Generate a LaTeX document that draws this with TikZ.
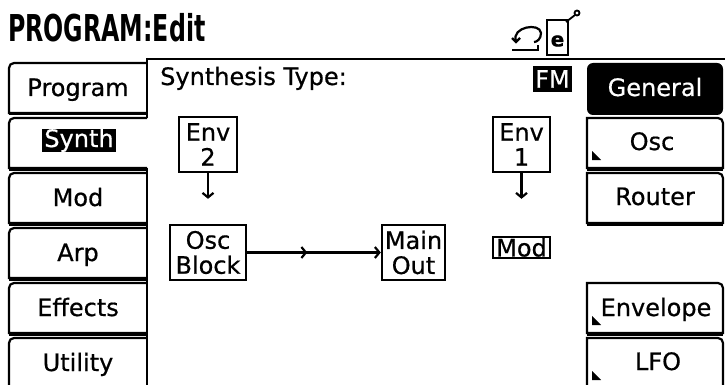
\documentclass[tikz,border=0pt]{standalone}
\usepackage{fontspec}
\setmainfont[FakeBold=0.6]{DejaVu Sans}
\newfontfamily\titlefont[FakeStretch=0.64]{DejaVu Sans}
\usetikzlibrary{arrows.meta,decorations.markings}
\begin{document}
\begin{tikzpicture}[x=1pt,y=-1pt,
  lcd/.style={font=\fontsize{24}{25}\selectfont, inner sep=0pt},
  tabedge/.style={line width=2.2pt},
  tabfoot/.style={line width=3.5pt},
  blk/.style={draw, line width=2.4pt, inner sep=0pt, font=\fontsize{24}{25}\selectfont, align=center},
  arr/.style={line width=2.2pt, -{Straight Barb[length=4.5pt,width=11pt]}},
  midarr/.style={postaction=decorate, decoration={markings,
      mark=at position 0.45 with {\arrow{Straight Barb[length=4.5pt,width=11pt]}}}}
]
\useasboundingbox (0,0) rectangle (725,385);
\clip (0,0) rectangle (725,385);
\fill[white] (0,0) rectangle (725,385);

% title
\node[anchor=base west, inner sep=0pt, font=\titlefont\bfseries\fontsize{37}{37}\selectfont] (title) at (8,42) {PROGRAM:Edit};

% icon
\draw[line width=2.2pt] (516,41) .. controls (511,27) and (540,22) .. (541,33) .. controls (541,39) and (537,42) .. (534,42);
\draw[line width=2.2pt] (512,38) -- (516,42) -- (520,38);
\draw[line width=2.2pt] (512,50) -- (538,50) -- (538,45);
\draw[line width=2.2pt] (547,20) rectangle (568,55);
\node[inner sep=0pt, font=\bfseries\fontsize{20}{20}\selectfont] (iconE) at (557.5,41) {e};
\draw[line width=1.8pt] (566,22) -- (575,15);
\draw[line width=1.8pt] (577,13) circle[radius=2.5];

% panel frame
\draw[line width=2.5pt] (147,59) -- (725,59);
\draw[line width=2.2pt] (147,58) -- (147,118);
\draw[line width=2.2pt] (147,168) -- (147,385);

% left tabs
\foreach \t in {63,118,173,228,283,338}{
  \draw[tabedge] (147,\t+50) -- (9,\t+50) -- (9,\t+5) arc[start angle=180,end angle=270,radius=5] -- (147,\t);
  \draw[tabfoot] (9,\t+50.75) -- (147,\t+50.75);
}
\node[lcd, anchor=base] (tprog) at (78,96) {Program};
\node[lcd, anchor=base, fill=black, text=white, inner xsep=2pt, inner ysep=1pt, text height=17pt, text depth=4pt] (tsynth) at (79,147) {Synth};
\node[lcd, anchor=base] (tmod) at (78,206) {Mod};
\node[lcd, anchor=base] (tarp) at (78,261) {Arp};
\node[lcd, anchor=base] (teff) at (78,316) {Effects};
\node[lcd, anchor=base] (tutil) at (78,371) {Utility};

% panel header
\node[lcd, anchor=base west] (stype) at (160,85) {Synthesis Type:};
\node[lcd, fill=black, text=white, minimum width=39pt, minimum height=26pt] (fm) at (552.5,79) {FM};

% right tabs
\fill[rounded corners=6pt] (587,63) rectangle (723,115);
\node[lcd, anchor=base, text=white] (tgen) at (655,96) {General};
\foreach \t/\tri in {118/1,173/0,283/1,338/1}{
  \draw[tabedge] (587,\t+50) -- (587,\t) -- (718,\t) arc[start angle=270,end angle=360,radius=5] -- (723,\t+50) -- cycle;
  \draw[tabfoot] (587,\t+50.75) -- (723,\t+50.75);
  \ifnum\tri=1
    \fill (592,\t+33) -- (592,\t+42) -- (601,\t+42) -- cycle;
  \fi
}
\node[lcd, anchor=base] (tosc) at (652,150) {Osc};
\node[lcd, anchor=base] (trouter) at (655,205) {Router};
\node[lcd, anchor=base] (tenvl) at (656,316) {Envelope};
\node[lcd, anchor=base] (tlfo) at (658,370) {LFO};

% diagram
\node[blk, minimum width=58pt, minimum height=55pt] (env2) at (208,144.5) {Env\\2};
\node[blk, minimum width=76pt, minimum height=55pt] (osc) at (208,252.5) {Osc\\Block};
\node[blk, minimum width=63pt, minimum height=55pt] (main) at (413.5,252.5) {Main\\Out};
\node[blk, minimum width=57pt, minimum height=55pt] (env1) at (521.5,144.5) {Env\\1};
\node[blk, minimum width=57pt, minimum height=21pt] (mod) at (521.5,247.5) {Mod};

\draw[arr, shorten >=25pt] (env2) -- (osc);
\draw[arr, shorten >=37pt] (env1) -- (mod);
\draw[arr, midarr] (osc) -- (main);
\end{tikzpicture}
\end{document}
